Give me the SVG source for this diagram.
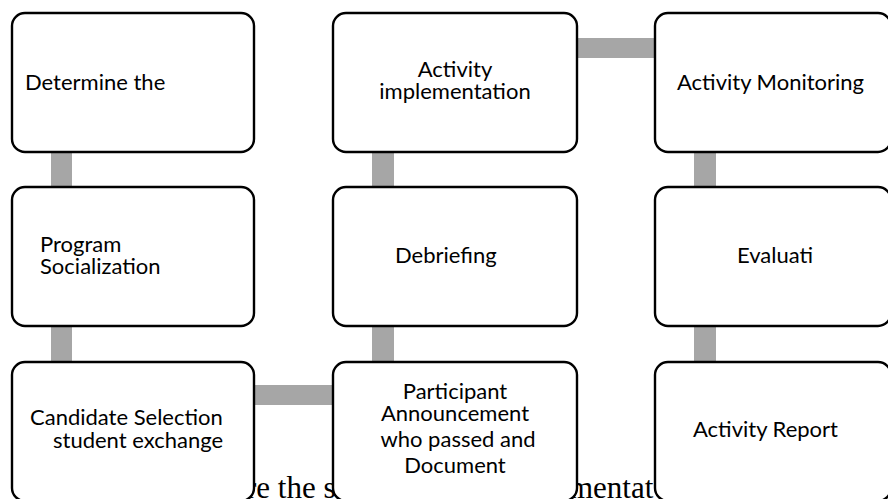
<svg xmlns="http://www.w3.org/2000/svg" width="888" height="499" viewBox="0 0 888 499">
<style>
.bg{fill:#ffffff}
.box{fill:#ffffff;stroke:#000000;stroke-width:2.4}
.bar{fill:#a6a6a6}
.t{font-family:Lato,"Open Sans","Liberation Sans",sans-serif;font-size:22px;fill:#000000}
.c{text-anchor:middle}
.serif{font-family:"Liberation Serif","Times New Roman",serif;font-size:31px;fill:#000000}
</style>
<rect class="bg" x="0" y="0" width="888" height="499"/>
<g id="caption">
<text class="serif" x="246" y="498">re the s</text>
<text class="serif" x="569" y="498">mentat</text>
</g>
<g id="connectors">
<rect class="bar" x="51" y="150" width="21" height="39"/>
<rect class="bar" x="51" y="325" width="21" height="39"/>
<rect class="bar" x="372" y="150" width="22" height="39"/>
<rect class="bar" x="372" y="325" width="22" height="39"/>
<rect class="bar" x="694" y="150" width="22" height="39"/>
<rect class="bar" x="694" y="325" width="22" height="39"/>
<rect class="bar" x="252" y="385" width="83" height="20"/>
<rect class="bar" x="575" y="38" width="82" height="20"/>
</g>
<g id="n1">
<rect class="box" x="12" y="13" width="242" height="139" rx="13"/>
<text class="t" x="25" y="90">Determine the</text>
</g>
<g id="n2">
<rect class="box" x="333" y="13" width="244" height="139" rx="13"/>
<text class="t c" x="455" y="77">Activity</text>
<text class="t c" x="455" y="99">implementation</text>
</g>
<g id="n3">
<rect class="box" x="655" y="13" width="236" height="139" rx="13"/>
<text class="t" x="677" y="90">Activity Monitoring</text>
</g>
<g id="n4">
<rect class="box" x="12" y="187" width="242" height="139" rx="13"/>
<text class="t" x="40" y="252">Program</text>
<text class="t" x="40" y="274">Socialization</text>
</g>
<g id="n5">
<rect class="box" x="333" y="187" width="244" height="139" rx="13"/>
<text class="t" x="395" y="263">Debriefing</text>
</g>
<g id="n6">
<rect class="box" x="655" y="187" width="236" height="139" rx="13"/>
<text class="t" x="737" y="263">Evaluati</text>
</g>
<g id="n7">
<rect class="box" x="12" y="362" width="242" height="139" rx="13"/>
<text class="t" x="30" y="425">Candidate Selection</text>
<text class="t" x="53" y="448">student exchange</text>
</g>
<g id="n8">
<rect class="box" x="333" y="362" width="244" height="139" rx="13"/>
<text class="t c" x="455" y="399">Participant</text>
<text class="t c" x="455" y="421">Announcement</text>
<text class="t c" x="458" y="447">who passed and</text>
<text class="t c" x="455" y="473">Document</text>
</g>
<g id="n9">
<rect class="box" x="655" y="362" width="236" height="139" rx="13"/>
<text class="t" x="693" y="437">Activity Report</text>
</g>
</svg>
